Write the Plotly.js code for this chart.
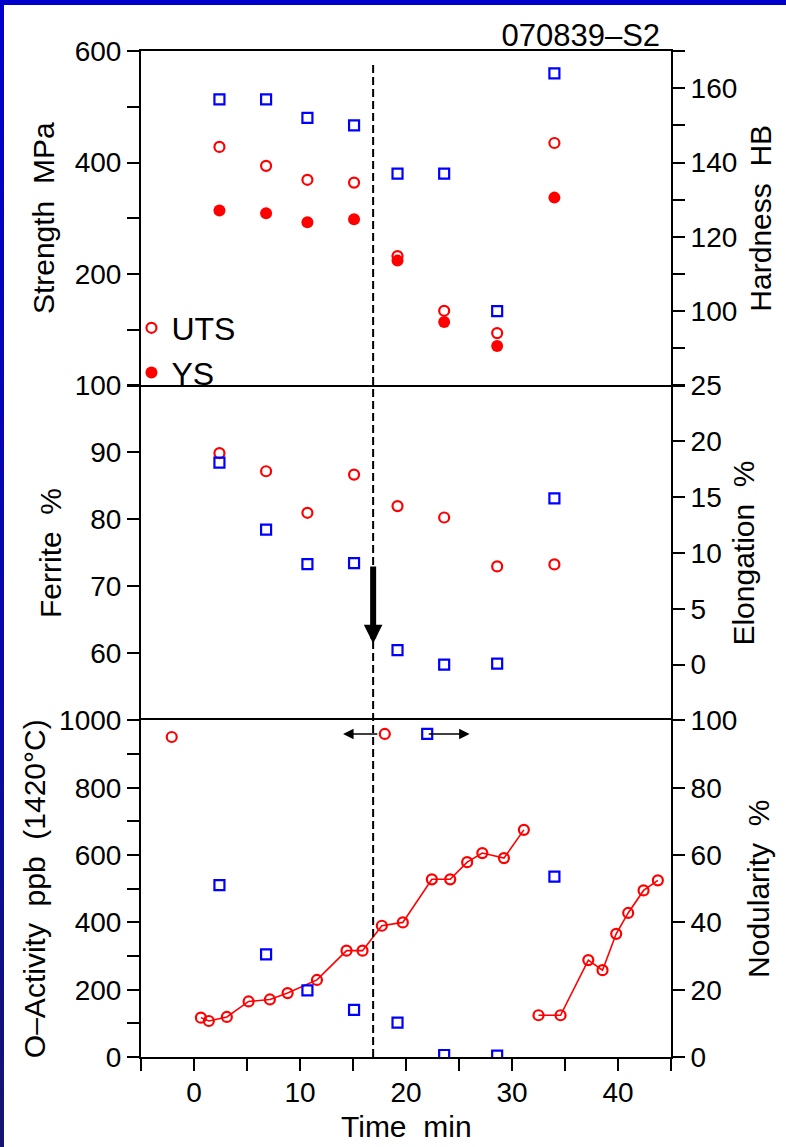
<!DOCTYPE html>
<html><head><meta charset="utf-8">
<script src="https://cdn.plot.ly/plotly-3.0.1.min.js"></script>
<style>
html,body{margin:0;padding:0;width:786px;height:1147px;overflow:hidden;}
body{background:linear-gradient(to bottom,#0000cc 0%,#0808a8 60%,#151570 100%);}
#wrap{position:absolute;left:4px;top:5px;width:782px;height:1142px;background:#fff;}
#chart{width:782px;height:1142px;}
</style></head><body><div id="wrap"><div id="chart"></div></div>
<script>
// ---- data ----
const sampleTime = [2.4, 6.8, 10.7, 15.1, 19.2, 23.6, 28.6, 34.0];
const uts        = [428, 394, 369, 364, 232, 134, 94, 435];
const ys         = [314, 309, 293, 298, 224, 114, 71, 337];
const hardness   = [157, 157, 152, 150, 137, 137, 100, 164];
const ferrite    = [89.9, 87.2, 81.0, 86.7, 82.0, 80.3, 73.0, 73.3];
const elongation = [18.1, 12.1, 9.0, 9.1, 1.3, 0.0, 0.1, 14.9];
const nodularity = [51.1, 30.5, 19.8, 14.0, 10.2, 0.6, 0.4, 53.6];

const oaStartTime = [-2.1];
const oaStart     = [951];
const oaRun1Time  = [0.65, 1.4, 3.1, 5.15, 7.16, 8.83, 11.6, 14.39, 15.9, 17.72, 19.7, 22.44, 24.17, 25.77, 27.2, 29.24, 31.12];
const oaRun1      = [117, 107, 119, 165, 171, 190, 229, 316, 316, 390, 400, 528, 528, 579, 606, 591, 675];
const oaRun2Time  = [32.5, 34.58, 37.2, 38.54, 39.83, 40.96, 42.41, 43.76];
const oaRun2      = [124, 124, 288, 258, 366, 428, 495, 525];

// axis indicator symbols (circle -> left axis, square -> right axis)
const indicatorCircle = {time: [18.0], value: [960], arrowTo: 14.06};
const indicatorSquare = {time: [22.0], value: [96],  arrowTo: 26.0};
const treatmentTime = 16.9;             // dashed line
const bigArrow = {from: 73.2, to: 61.5}; // on the Ferrite scale

// ---- ticks ----
const timeTicks = [-5,0,5,10,15,20,25,30,35,40,45];
const timeLabels = ['', '0', '', '10', '', '20', '', '30', '', '40', ''];
const strengthTicks = [0,100,200,300,400,500,600];
const strengthLabels = ['', '', '200', '', '400', '', '600'];
const hardTicks = [80,90,100,110,120,130,140,150,160,170];
const hardLabels = ['', '', '100', '', '120', '', '140', '', '160', ''];
const ferriteTicks = [50,60,70,80,90,100];
const ferriteLabels = ['', '60', '70', '80', '90', '100'];
const elongTicks = [-5,0,5,10,15,20,25];
const elongLabels = ['', '0', '5', '10', '15', '20', '25'];
const oaTicks = [0,100,200,300,400,500,600,700,800,900,1000];
const oaLabels = ['0','','200','','400','','600','','800','','1000'];
const nodTicks = [0,20,40,60,80,100];
const nodLabels = ['0','20','40','60','80','100'];

const RED = '#ff0000', BLUE = '#0000ff';
const FONT = 'Liberation Sans, Arial, Helvetica, sans-serif';
const NB = '\u00a0\u00a0';

const openCircle = {symbol: 'circle-open', size: 10, color: RED, line: {color: RED, width: 2.2}};
const fullCircle = {symbol: 'circle', size: 12, color: RED};
const openSquare = {symbol: 'square-open', size: 10, color: BLUE, line: {color: BLUE, width: 2.2}};

const traces = [
  // top panel
  {x: sampleTime, y: hardness, xaxis: 'x3', yaxis: 'y6', mode: 'markers', marker: openSquare, showlegend: false, name: 'Hardness'},
  {x: sampleTime, y: uts, xaxis: 'x3', yaxis: 'y5', mode: 'markers', marker: openCircle, name: 'UTS'},
  {x: sampleTime, y: ys, xaxis: 'x3', yaxis: 'y5', mode: 'markers', marker: fullCircle, name: 'YS'},
  // middle panel
  {x: sampleTime, y: elongation, xaxis: 'x2', yaxis: 'y4', mode: 'markers', marker: openSquare, showlegend: false, name: 'Elongation'},
  {x: sampleTime, y: ferrite, xaxis: 'x2', yaxis: 'y3', mode: 'markers', marker: openCircle, showlegend: false, name: 'Ferrite'},
  // bottom panel
  {x: sampleTime, y: nodularity, xaxis: 'x', yaxis: 'y2', mode: 'markers', marker: openSquare, showlegend: false, name: 'Nodularity'},
  {x: oaStartTime, y: oaStart, xaxis: 'x', yaxis: 'y', mode: 'markers', marker: openCircle, showlegend: false},
  {x: oaRun1Time, y: oaRun1, xaxis: 'x', yaxis: 'y', mode: 'lines+markers', line: {color: RED, width: 1.6}, marker: openCircle, showlegend: false},
  {x: oaRun2Time, y: oaRun2, xaxis: 'x', yaxis: 'y', mode: 'lines+markers', line: {color: RED, width: 1.6}, marker: openCircle, showlegend: false},
  {x: indicatorCircle.time, y: indicatorCircle.value, xaxis: 'x', yaxis: 'y', mode: 'markers', marker: openCircle, showlegend: false},
  {x: indicatorSquare.time, y: indicatorSquare.value, xaxis: 'x', yaxis: 'y2', mode: 'markers', marker: openSquare, showlegend: false}
];

const D_BOT = [0, 0.3345], D_MID = [0.3345, 0.6675], D_TOP = [0.6675, 1];
const tickFont = {family: FONT, size: 28, color: '#000'};
const titleFont = {family: FONT, size: 30, color: '#000'};

function yAx(domain, range, tv, tt, title, side, standoff, extra) {
  return Object.assign({
    domain: domain, range: range, side: side,
    tickmode: 'array', tickvals: tv, ticktext: tt,
    ticks: 'outside', ticklen: 12, tickwidth: 2, tickcolor: '#000',
    showline: true, linewidth: 2, linecolor: '#000',
    showgrid: false, zeroline: false, tickfont: tickFont,
    title: {text: title, font: titleFont, standoff: standoff}
  }, extra || {});
}
function xAx(anchor, extra) {
  return Object.assign({
    domain: [0, 1], range: [-5, 45], anchor: anchor,
    showline: true, linewidth: 2, linecolor: '#000', mirror: true,
    showgrid: false, zeroline: false
  }, extra || {});
}

const layout = {
  width: 782, height: 1142,
  margin: {l: 137, r: 115, t: 46, b: 90},
  paper_bgcolor: '#ffffff', plot_bgcolor: '#ffffff',
  font: {family: FONT, color: '#000'},
  title: {text: '070839\u2013S2', font: {family: FONT, size: 31, color: '#000'},
          xref: 'container', x: 0.839, xanchor: 'right', yref: 'container', y: 0.9737, yanchor: 'middle'},
  xaxis: xAx('y', {tickmode: 'array', tickvals: timeTicks, ticktext: timeLabels, ticks: 'outside',
                   ticklen: 12, tickwidth: 2, tickcolor: '#000', tickfont: tickFont, ticklabelstandoff: -3}),
  xaxis2: xAx('y3', {matches: 'x', showticklabels: false, ticks: '', showline: false}),
  xaxis3: xAx('y5', {matches: 'x', showticklabels: false, ticks: ''}),
  yaxis: yAx(D_BOT, [0, 1000], oaTicks, oaLabels, 'O\u2013Activity' + NB + 'ppb' + NB + '(1420\u00b0C)', 'left', 5, {anchor: 'x'}),
  yaxis2: yAx(D_BOT, [0, 100], nodTicks, nodLabels, 'Nodularity' + NB + '%', 'right', 12, {anchor: 'x', overlaying: 'y'}),
  yaxis3: yAx(D_MID, [50, 100], ferriteTicks, ferriteLabels, 'Ferrite' + NB + '%', 'left', 4, {anchor: 'x2'}),
  yaxis4: yAx(D_MID, [-5, 25], elongTicks, elongLabels, 'Elongation' + NB + '%', 'right', 12, {anchor: 'x2', overlaying: 'y3'}),
  yaxis5: yAx(D_TOP, [0, 600], strengthTicks, strengthLabels, 'Strength' + NB + 'MPa', 'left', 11, {anchor: 'x3'}),
  yaxis6: yAx(D_TOP, [80, 170], hardTicks, hardLabels, 'Hardness' + NB + 'HB', 'right', 14, {anchor: 'x3', overlaying: 'y5'}),
  showlegend: true,
  legend: {x: -0.018, xanchor: 'left', y: 0.752, yanchor: 'top', bgcolor: 'rgba(0,0,0,0)',
           font: {family: FONT, size: 32, color: '#000'}, tracegroupgap: 0, itemwidth: 30},
  shapes: [
    {type: 'line', xref: 'x', yref: 'paper', x0: treatmentTime, x1: treatmentTime, y0: 0, y1: 0.990,
     line: {color: '#000', width: 2, dash: '8px,4px'}}
  ],
  annotations: [
    {xref: 'paper', yref: 'paper', x: 0.5, y: -0.069, xanchor: 'center', yanchor: 'middle',
     text: 'Time' + NB + 'min', showarrow: false, font: titleFont},
    {xref: 'x2', yref: 'y3', axref: 'x2', ayref: 'y3', x: treatmentTime, y: bigArrow.to,
     ax: treatmentTime, ay: bigArrow.from, text: '', showarrow: true, arrowhead: 2, arrowsize: 0.62,
     arrowwidth: 6, arrowcolor: '#000'},
    {xref: 'x', yref: 'y', axref: 'x', ayref: 'y', x: indicatorCircle.arrowTo, y: indicatorCircle.value[0],
     ax: indicatorCircle.time[0], ay: indicatorCircle.value[0], text: '', showarrow: true, arrowhead: 2,
     arrowsize: 1.4, arrowwidth: 1.5, arrowcolor: '#000', startstandoff: 6},
    {xref: 'x', yref: 'y2', axref: 'x', ayref: 'y2', x: indicatorSquare.arrowTo, y: indicatorSquare.value[0],
     ax: indicatorSquare.time[0], ay: indicatorSquare.value[0], text: '', showarrow: true, arrowhead: 2,
     arrowsize: 1.4, arrowwidth: 1.5, arrowcolor: '#000', startstandoff: 0}
  ]
};

Plotly.newPlot('chart', traces, layout, {displayModeBar: false, staticPlot: true});
</script></body></html>
